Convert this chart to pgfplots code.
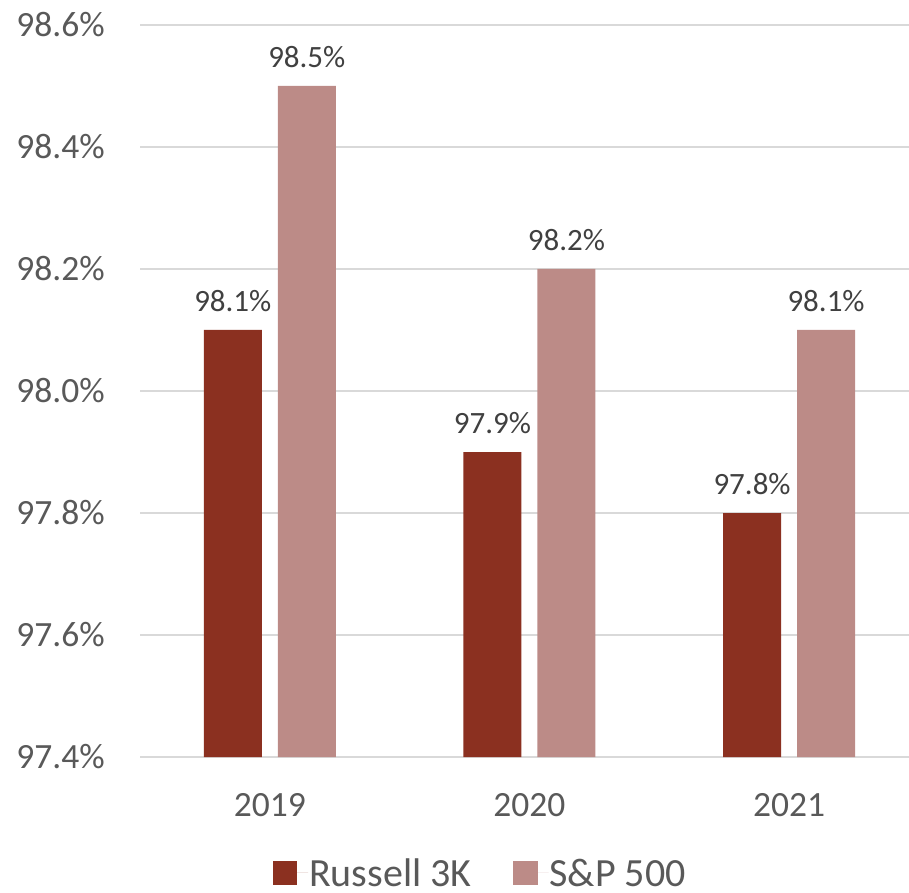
\documentclass[border=0pt]{standalone}
\usepackage{pgfplots}
\pgfplotsset{compat=1.18}
\usepackage{fontspec}
\setmainfont{Carlito}
\definecolor{russ}{HTML}{8B3020}
\definecolor{snp}{HTML}{BC8B87}
\definecolor{gridc}{HTML}{D9D9D9}
\definecolor{tickc}{HTML}{595959}
\definecolor{labc}{HTML}{404040}
\begin{document}
\begin{tikzpicture}
\begin{axis}[
  at={(140pt,135pt)}, anchor=south west,
  scale only axis, width=769pt, height=732pt,
  xmin=-0.5, xmax=2.462,
  ymin=97.4, ymax=98.6,
  ytick={97.4,97.6,...,98.61},
  xtick=data, xticklabels={2019,2020,2021},
  axis line style={draw=none},
  major tick length=0pt,
  ymajorgrids, grid style={gridc, line width=1.5pt},
  /pgf/number format/assume math mode=true,
  yticklabel={\pgfmathprintnumber[fixed,fixed zerofill,precision=1]{\tick}\%},
  yticklabel style={font=\fontsize{35.5}{40}\selectfont, text=tickc, inner sep=0pt, xshift=-35pt},
  xticklabel style={font=\fontsize{35.5}{40}\selectfont, text=tickc, inner sep=0pt, yshift=-36pt},
  ybar=16pt, bar width=58pt,
  nodes near coords={\pgfmathprintnumber[fixed,fixed zerofill,precision=1]{\pgfplotspointmeta}\%},
  nodes near coords style={font=\fontsize{31}{36}\selectfont, text=labc, inner sep=0pt, anchor=south, yshift=18pt},
  legend columns=2,
  legend style={at={(0.442,-0.158)}, anchor=center, draw=none, fill=none,
    font=\fontsize{40}{46}\selectfont, text=tickc,
    nodes={inner sep=1pt, text depth=0pt},
    /tikz/every even column/.append style={column sep=41pt}},
  legend image code/.code={\fill[#1] (0pt,-12pt) rectangle (24pt,12pt); \path (0pt,0pt) -- (35pt,0pt);},
  legend cell align=left,
]
\addplot[fill=russ, draw=none] coordinates {(0,98.1) (1,97.9) (2,97.8)};
\addlegendentry{Russell 3K}
\addplot[fill=snp, draw=none] coordinates {(0,98.5) (1,98.2) (2,98.1)};
\addlegendentry{S\&P 500}
\end{axis}
\pgfresetboundingbox
\path[use as bounding box] (0,0) rectangle (909pt,892pt);
\end{tikzpicture}
\end{document}
